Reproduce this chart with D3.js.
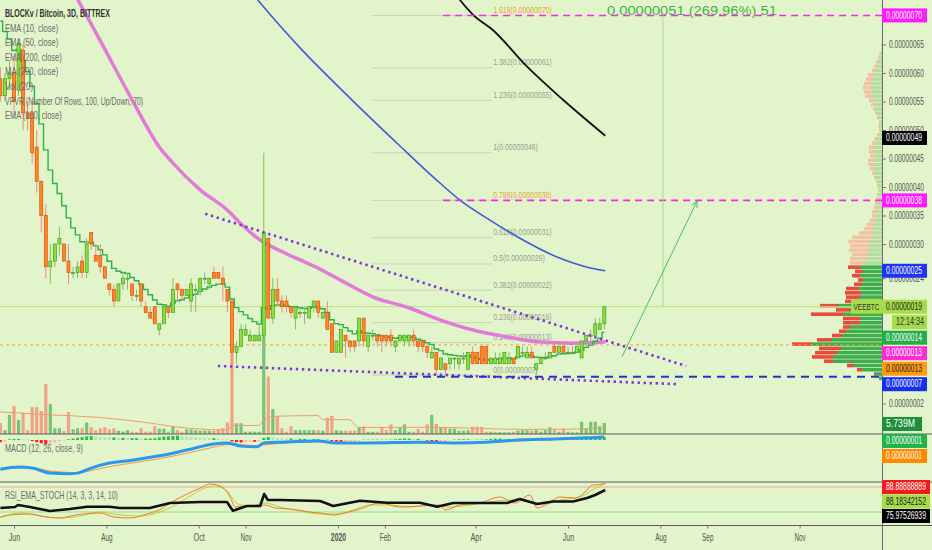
<!DOCTYPE html>
<html><head><meta charset="utf-8">
<script src="https://cdn.jsdelivr.net/npm/d3@7/dist/d3.min.js"></script>
<style>
html,body{margin:0;padding:0;background:#e2f5ca;}
svg{display:block;}
text{font-family:"Liberation Sans",Arial,sans-serif;}
</style></head><body>
<svg id="chart" width="932" height="550"></svg>
<script>
// ================= DATA =================
const candleStart = "2019-05-23";
const candleStepDays = 3;
// [open, high, low, close] in satoshi (1e-8 BTC)
const candleOHLC = [
[59,61,55,56],[56,60,55,59],[59,62,57,60],[60,63,52,55],[57,66,56,65],[64,65,50,53],[53,55,50,52],[53,55,44,46],[47,50,39,41],[41,41,32,35],
[35,37,24,26],[26,30,23,27],[27,30,26,30],[30,33,28,31],[30,30,27,27],[27,30,23,25],[25,26,24,25],[25,27,24,26],[27,28,24,25],[25,31,24,30],
[32,32,29,30],[28,30,27,27],[28,30,25,26],[26,26,24,24],[23,23,21,22],[22,23,19,20],[20,23,20,23],[23,25,22,24],[24,25,22,24],[23,23,20,21],
[21,22,20,21],[23,23,19,20],[19,20,18,18],[18,19,17,17],[19,19,16,16],[15,16,14,16],[16,19,16,19],[19,19,17,18],[18,24,18,22],[23,23,20,22],
[22,22,20,21],[21,22,21,22],[20,24,18,23],[22,23,18,22],[22,24,21,24],[24,25,23,24],[23,24,22,24],[25,26,24,24],[25,25,24,24],[24,26,20,23],
[22,22,18,20],[20,20,8,11],[11,13,9,12],[12,16,12,15],[14,16,14,15],[13,15,13,14],[13,14,13,14],[13,16,13,14],[14,46,13,32],[31,31,17,17],
[17,24,16,22],[22,24,19,20],[20,21,18,19],[20,21,18,19],[19,19,17,18],[17,19,15,19],[18,19,17,18],[18,19,16,18],[17,19,17,19],[19,20,18,20],
[20,20,17,18],[17,18,17,18],[18,20,15,15],[16,16,11,11],[11,13,11,13],[11,15,11,15],[14,14,10,13],[13,13,11,12],[13,13,11,12],[13,17,12,17],
[17,17,12,13],[12,14,11,14],[14,15,13,14],[14,14,12,13],[14,14,11,13],[14,14,12,13],[14,15,12,13],[12,13,11,13],[13,14,13,14],[13,14,12,14],
[13,14,12,14],[14,15,12,13],[13,13,11,12],[13,13,11,12],[12,12,10,11],[10,12,10,11],[11,11,7,8],[8,10,8,10],[9,9,7,8],[9,10,8,10],
[10,10,8,10],[9,10,8,10],[10,11,9,10],[8,11,8,11],[11,12,9,9],[11,11,9,9],[12,12,9,9],[12,12,9,9],[9,10,9,10],[9,11,9,10],
[9,11,9,10],[9,11,9,11],[9,11,9,10],[10,10,9,9],[10,12,10,12],[11,12,10,11],[10,12,10,11],[11,12,10,10],[8,9,7,9],[9,10,9,10],
[10,11,10,10],[10,11,10,11],[12,13,11,11],[11,12,11,12],[12,13,11,11],[11,12,11,11],[11,12,11,11],[11,12,11,12],[10,13,10,13],[13,14,12,14],
[14,15,13,14],[14,17,14,16],[15,17,15,16],[16,19,15,19]
];
// volume in millions
const volumeM = [
5.7,2,10,14.6,7.3,11,2,14,14,12,
26,15.6,3,3,1.5,11.5,2.5,3,3,6,
3.6,2,3,3.5,2.4,3,1.7,1.2,2,1.2,
0.8,3,1.2,1.2,4,2.8,2.8,1.2,4,2,
1.2,2.4,2.4,2,1.7,1.7,1.7,1.7,2.4,3,
6,42,5.6,5.6,1.2,1.2,1.2,1.2,55,30,
13,9.4,3,1.2,4,2,2,2,2,2,
2,1.7,8.5,9.4,2,1.7,1.7,1.7,1.7,3.3,
4,1.2,1.2,1.2,3.5,2,5,2,3.5,5,
1.2,1.2,2.5,1.2,5,10,5.3,3.5,3.5,2.8,
2.8,1.7,1.7,2,3.8,3.8,3.8,1.2,1.2,0.9,
0.9,0.9,0.9,1.2,1.7,2,2,1.7,2,1.2,
2,3.5,2.4,1.2,2.8,1.2,0.9,0.9,6.4,3,
6.4,6.4,4,5.74
];
const volMaIdx = [0,11,22,31,41,50,51,57,58,59,60,70,71,77,78,79,95,115,128,133];
const volMaVal = [11.5,10,8.6,6.3,3.1,2.1,4.4,4.5,7.2,8.6,9.2,9.6,7.6,7.4,4.8,3.4,3.5,2.4,2.6,3.2];

// long moving averages (sampled at candle index)
const ema100Idx = [13,17.1,21.9,29,35.2,38,44,49.9,52.8,57.2,62.2,66,70.4,74.8,82.1,89.6,96.8,104.1,111.6,118.9,126.1,133.2];
const ema100Val = [78.4,72.8,65.8,55.3,46.8,44.2,39.5,36,33.7,30.7,28.6,27.2,25.6,23.7,20.7,18.9,16.7,14.9,13.7,12.8,12.6,12.8];
const ema200Idx = [50.6,56.7,66,77,88,96.8,101.2,107.8,115.1,122.6,129.9,133.2];
const ema200Val = [78.9,72.8,64.4,55.6,47.2,40.7,37.7,34.2,30.7,27.7,25.8,25.3];
const ma200Idx = [97.9,101.2,104.1,108.5,116,123.9,133.2];
const ma200Val = [76.3,72.8,70.2,67.5,61.1,55.3,49];
const ema10Seed = 72;

// volume profile rows (bottom up), base price & row height in sats
const vpBase = 6.0, vpRow = 0.75;
const vpUp = [3,7,20,28,49,49,45,41,70,50, 40,36,32,22,22,39,32,44,22,22, 21,24,20,19,22,19,22,18,15,14,
  13,12,12,10,9,8,8,7,6,6, 5,4,4,3,3,4,5,6,7,8, 9,8,7,9,8,6,5,3,2,3, 2,4,5,6,7,8,10,10,11,10, 9,8,6,5,4,3,2,1,1];
const vpDown = [0,1,5,7,9,21,22,22,20,15, 10,7,7,17,17,32,14,18,15,14, 16,12,8,5,8,8,12,14,17,16,
  20,20,22,20,14,10,7,5,4,4, 3,3,2,2,1,1,1,2,3,4, 5,6,5,4,5,4,3,2,1,1, 1,1,2,3,4,5,7,8,8,8, 7,6,4,3,2,1,1,0,0];
const vpValueAreaTop = 26;
const pocPrice = 12.3;

// MACD
const macdHist = [
-0.6,-0.5,0.2,0.3,0.3,0.2,0.1,-0.3,-0.6,-0.9,
-1.2,-1.0,-0.7,-0.4,-0.2,0.2,0.4,0.6,0.8,1.0,
1.1,1.0,0.9,0.8,0.7,0.7,0.6,0.6,0.5,0.5,
0.5,0.4,0.4,0.4,0.5,0.7,0.9,1.0,1.1,1.2,
1.1,1.0,0.9,0.8,0.7,0.6,0.5,0.5,0.4,0.3,
0.2,-0.4,-0.6,-0.7,-0.6,-0.5,-0.5,-0.4,0.6,0.8,
0.7,0.6,0.5,0.4,0.4,0.3,0.3,0.3,0.2,0.2,
0.2,0.1,0.1,-0.3,-0.5,-0.6,-0.5,-0.4,-0.3,-0.1,
0.1,0.1,0.1,0.1,0.1,0.1,0.1,0.2,0.3,0.4,
0.4,0.3,0.3,0.2,-0.2,-0.4,-0.5,-0.4,-0.3,-0.1,
0.1,0.2,0.2,0.2,0.1,0.1,0.1,0.2,0.3,0.4,
0.4,0.3,0.3,0.2,0.3,0.3,0.2,0.2,0.2,0.3,
0.3,0.3,0.3,0.2,0.2,0.2,0.2,0.3,0.4,0.5,
0.5,0.6,0.6,0.7
];
const macdIdx = [0,4,7,11,15,17,20,24,29,35,41,47,50,53,56.5,58,62,70,74,81,92,100,107,114,122,129,133];
const macdVal = [-8.1,-7.5,-7.8,-9.2,-9.4,-9.2,-7.8,-6.4,-5.6,-4.4,-2.8,-1.1,-0.8,-1.7,-1.9,-0.8,-0.6,-0.3,-0.8,-0.8,-0.6,-0.8,-0.6,0,0.3,0.6,0.8];
const signalVal = [-8.3,-7.8,-7.8,-8.6,-9.0,-9.1,-8.5,-7.4,-6.4,-5.2,-3.7,-2.0,-1.3,-1.3,-1.6,-1.4,-0.9,-0.5,-0.6,-0.8,-0.7,-0.8,-0.7,-0.3,0.1,0.4,0.6];

// RSI_EMA_STOCH
const rsiIdx = [0,3.2,3.9,6.5,10.9,15.3,19.1,24.1,26.3,32.9,37.4,44,49.9,51.2,54.3,57.2,58.1,58.9,61.6,70.4,73.3,79.2,85.2,92.4,96.2,99.7,111.6,114.4,118.2,121.7,126.1,129.2,131,133.2];
const rsiVal = [29.6,32,36.8,32,22.4,27.2,32.7,32.7,29.6,29.6,41.6,44,44,23.1,34.4,34.4,63.2,48.8,48.8,46.4,34.4,47.1,42.3,42.3,32.7,41.6,41.6,51.2,39.2,45.2,45.2,53.6,60.8,72.8];
const kIdx = [0,2,6.5,10,13,16.5,22,25,28.5,33,35,37.4,40.7,44,46.2,48.8,50.6,51.7,53.9,56,58.3,60.5,63.8,68.2,70.4,73.3,75.9,79.2,83.6,88,92.4,96.8,97.9,101.2,105.6,110,113.3,116.6,118.2,120,123.3,126.6,128.8,130.3,132,133.2];
const kVal = [8,12.8,15.2,8,5.6,12.8,17.6,8,5.6,17.6,24.8,41.6,60.8,77.6,87.2,80,56,32,34.4,34.4,36.8,29.6,27.2,20,17.6,12.8,17.6,27.2,41.6,32,34.4,36.8,24.8,36.8,41.6,56,41.6,60.8,29.6,36.8,56,53.6,68,84.8,86,88.9];
const dIdx = [0,4.3,8.7,13,17.5,22,26.3,30.7,35.2,38.5,41.8,45,47.3,50.1,52.3,55,58.3,61.6,66,70.4,73.7,77,81.4,85.8,90.2,94.6,99,103.4,107.8,112.3,116.6,120,123.3,127.7,130.3,132,133.2];
const dVal = [5.6,17.6,10.4,5.6,10.4,20,12.8,10.4,20,36.8,58.4,77.6,82.4,68,39.2,34.4,41.6,32,22.4,15.2,15.2,22.4,36.8,36.8,32,36.8,32,36.8,44,48.8,44,39.2,48.8,56,72.8,82.4,88.2];
const rsiLevels = [80,20];

// drawings
const fibLow = 7, fibHigh = 46;
const fibLevels = [0,0.146,0.236,0.382,0.5,0.618,0.786,1,1.236,1.382,1.618];
const fibLabels = ["0(0.00000007)","0.146(0.00000013)","0.236(0.00000016)","0.382(0.00000022)","0.5(0.00000026)","0.618(0.00000031)","0.786(0.00000038)","1(0.00000046)","1.236(0.00000055)","1.382(0.00000061)","1.618(0.00000070)"];
const fibSpanIdx = [81.9,108.3];
const trendUpper = [[45.1,35.3],[151,8.6]];
const trendLower = [[47.9,8.6],[149.3,5.4]];
const magentaRays = [70.1,37.65], magentaStartIdx = 97.5;
const blueRay = 6.7, blueRayStartIdx = 86.9;
const lastClose = 19;
const arrowPts = [[136.9,10.2],[153.4,37.5]];
const measureIdx = 145.9, measureFrom = 19, measureTo = 70.1;
const measureText = "0.00000051 (269.96%) 51";

// axes / labels
const priceTicks = [65,60,55,50,45,40,35,30,24,2];
const timeTickDates = ["2019-06-01","2019-08-01","2019-10-01","2019-11-01","2020-01-01","2020-02-01","2020-04-01","2020-06-01","2020-08-01","2020-09-01","2020-11-01"];
const timeTickLabels = ["Jun","Aug","Oct","Nov","2020","Feb","Apr","Jun","Aug","Sep","Nov"];
const legendLines = ["BLOCKv / Bitcoin, 3D, BITTREX","EMA (10, close)","EMA (50, close)","EMA (200, close)","MA (200, close)","Vol (20)","VPVR (Number Of Rows, 100, Up/Down, 70)","EMA (100, close)"];
const priceTagValues = [70.1,48.6,37.65,25.3,19,14,12.8,12.3,6.7];
const priceTagLabels = ["0.00000070","0.00000049","0.00000038","0.00000025","0.00000019","0.00000014","0.00000013","0.00000013","0.00000007"];
const symbolTag = "VEEBTC", countdown = "12:14:34";
const volTag = "5.739M";
const macdTagValues = [0.8,0.6], macdTagLabels = ["0.00000001","0.00000001"];
const rsiTagValues = [88.89,88.18,75.98], rsiTagLabels = ["88.88888889","88.18342152","75.97526939"];

// ================= STYLE =================
const BG = "#e2f5ca", AX = 882;
const tagFill = ["#ff1aff","#000000","#ff1aff","#1f35f5","#a6dc48","#22ad48","#ff2ad8","#ff9a12","#1730f0"];
const tagInk = ["#fff","#fff","#fff","#fff","#222","#fff","#fff","#222","#fff"];

// squeeze a text horizontally to a target width (keeps real text)
function fitText(sel, wFn){
  sel.each(function(d,i){
    const w = typeof wFn==="function" ? wFn(d,i,this) : wFn;
    const n = this.getComputedTextLength();
    const sx = n>0 ? w/n : 1;
    const x0 = +(this.getAttribute("x")||0), y0 = +(this.getAttribute("y")||0);
    this.setAttribute("x",0); this.setAttribute("y",0);
    this.setAttribute("transform",`translate(${x0},${y0}) scale(${sx},1)`);
  });
}

// ================= SCALES =================
const svg = d3.select("#chart");
const parseDate = d3.utcParse("%Y-%m-%d");
const t0 = parseDate(candleStart);
const dateOf = i => new Date(t0.getTime() + i*candleStepDays*864e5);
const x = d3.scaleUtc().domain([parseDate("2019-06-01"), parseDate("2020-06-01")]).range([14,568]);
const xi = i => x(dateOf(i));
const y = d3.scaleLinear().domain([0,70]).range([415,16]);
const yVol = d3.scaleLinear().domain([0,50]).range([434,338]);
const yMacd = d3.scaleLinear().domain([-10,0]).range([476,440]);
const yRsi = d3.scaleLinear().domain([20,80]).range([512,487]);
const vpLen = d3.scaleLinear().domain([0,100]).range([0,100]);

const candles = candleOHLC.map((d,i)=>({i, o:d[0], h:d[1], l:d[2], c:d[3], v:volumeM[i], m:macdHist[i]}));

svg.append("rect").attr("width",932).attr("height",550).attr("fill",BG);
const defs = svg.append("defs");
function clip(id,x0,y0,w,h){defs.append("clipPath").attr("id",id).append("rect").attr("x",x0).attr("y",y0).attr("width",w).attr("height",h);}
clip("cMain",0,0,AX,434); clip("cMacd",0,434,AX,48); clip("cRsi",0,482,AX,43.5);

const gMain = svg.append("g").attr("clip-path","url(#cMain)");

// volume bars
gMain.append("g").selectAll("rect").data(candles).join("rect")
  .attr("x",d=>xi(d.i)-1.6).attr("width",3.2)
  .attr("y",d=>yVol(d.v)).attr("height",d=>434-yVol(d.v))
  .attr("fill",d=>d.c>=d.o?"#78c474":"#f2a386");
gMain.append("path").datum(d3.zip(volMaIdx,volMaVal))
  .attr("d",d3.line().x(d=>xi(d[0])).y(d=>yVol(d[1])).curve(d3.curveMonotoneX))
  .attr("fill","none").attr("stroke","#f09a72").attr("stroke-width",1);

// volume profile
const vpRows = vpUp.map((u,k)=>({k,u,d:vpDown[k]}));
const gVp = gMain.append("g");
vpRows.forEach(r=>{
  const top = y(vpBase+vpRow*(r.k+1)), bot = y(vpBase+vpRow*r.k);
  const h = bot-top-0.7;
  const dark = r.k<=vpValueAreaTop;
  gVp.append("rect").attr("x",AX-vpLen(r.u)).attr("y",top).attr("width",vpLen(r.u)).attr("height",h)
    .attr("fill",dark?"#3fae4c":"#b4dd9f");
  gVp.append("rect").attr("x",AX-vpLen(r.u)-vpLen(r.d)).attr("y",top).attr("width",vpLen(r.d)).attr("height",h)
    .attr("fill",dark?"#ea4a3a":"#f2c3a3");
});

// fib
const fibG = gMain.append("g");
fibLevels.forEach((lv,k)=>{
  const p = fibLow + lv*(fibHigh-fibLow);
  const special = (lv===1.618||lv===0.786);
  fibG.append("line").attr("x1",xi(fibSpanIdx[0])).attr("x2",xi(fibSpanIdx[1])).attr("y1",y(p)).attr("y2",y(p))
    .attr("stroke","#c9d3b8").attr("stroke-width",1);
  fibG.append("text").attr("x",xi(fibSpanIdx[1])+1).attr("y",y(p)-5).attr("dominant-baseline","middle")
    .attr("font-size",9.5).attr("fill",special?"#e8a640":"#9a9f93").text(fibLabels[k])
    .call(s=>fitText(s, fibLabels[k].length*3.45));
});

// price line & POC
gMain.append("line").attr("x1",0).attr("x2",AX).attr("y1",y(lastClose)).attr("y2",y(lastClose)).attr("stroke","#bfe07a").attr("stroke-width",1);
gMain.append("line").attr("x1",0).attr("x2",AX).attr("y1",y(pocPrice)).attr("y2",y(pocPrice)).attr("stroke","#f5a338").attr("stroke-width",1).attr("stroke-dasharray","3,3");

// moving averages
const smooth = d3.line().x(d=>xi(d[0])).y(d=>y(d[1])).curve(d3.curveMonotoneX);
gMain.append("path").datum(d3.zip(ema200Idx,ema200Val)).attr("d",smooth).attr("fill","none").attr("stroke","#3f5bd8").attr("stroke-width",1.6);
gMain.append("path").datum(d3.zip(ma200Idx,ma200Val)).attr("d",smooth).attr("fill","none").attr("stroke","#111").attr("stroke-width",1.8);
gMain.append("path").datum(d3.zip(ema100Idx,ema100Val)).attr("d",smooth).attr("fill","none").attr("stroke","#e27ad8").attr("stroke-width",3.5);

// EMA 10 from closes
const alpha = 2/11; let e = ema10Seed;
const ema10 = candles.map(d=>{ e = e + alpha*(d.c-e); return [d.i,e]; });
gMain.append("path").datum(ema10).attr("d",d3.line().x(d=>xi(d[0])).y(d=>y(d[1])).curve(d3.curveStep))
  .attr("fill","none").attr("stroke","#2fb14a").attr("stroke-width",1.4);

// candles
const cg = gMain.append("g");
cg.selectAll("line").data(candles).join("line")
  .attr("x1",d=>xi(d.i)).attr("x2",d=>xi(d.i)).attr("y1",d=>y(d.h)).attr("y2",d=>y(d.l))
  .attr("stroke",d=>d.c>d.o?"#7fc25a":(d.c<d.o?"#ee8c76":"#9aa890")).attr("stroke-width",1);
cg.selectAll("rect").data(candles).join("rect")
  .attr("x",d=>xi(d.i)-1.5).attr("width",3)
  .attr("y",d=>y(Math.max(d.o,d.c))).attr("height",d=>Math.max(1,Math.abs(y(d.o)-y(d.c))))
  .attr("fill",d=>d.c>=d.o?"#8fe034":"#ff8a1a")
  .attr("stroke",d=>d.c>=d.o?"#3f9e28":"#e24a1c").attr("stroke-width",0.7);

// trend lines
[trendUpper,trendLower].forEach(t=>{
  gMain.append("line").attr("x1",xi(t[0][0])).attr("y1",y(t[0][1])).attr("x2",xi(t[1][0])).attr("y2",y(t[1][1]))
    .attr("stroke","#8236d8").attr("stroke-width",2.6).attr("stroke-dasharray","2.4,3.6");
});
// rays
magentaRays.forEach(p=>{
  gMain.append("line").attr("x1",xi(magentaStartIdx)).attr("x2",AX).attr("y1",y(p)).attr("y2",y(p))
    .attr("stroke","#ff22f0").attr("stroke-width",1.6).attr("stroke-dasharray","7,5");
});
gMain.append("line").attr("x1",xi(blueRayStartIdx)).attr("x2",AX).attr("y1",y(blueRay)).attr("y2",y(blueRay))
  .attr("stroke","#2236c8").attr("stroke-width",2).attr("stroke-dasharray","8,6");
// measure
gMain.append("line").attr("x1",xi(measureIdx)).attr("x2",xi(measureIdx)).attr("y1",y(measureTo)).attr("y2",y(measureFrom))
  .attr("stroke","#a9d59a").attr("stroke-width",1);
svg.append("text").attr("x",xi(measureIdx)+29).attr("y",y(measureTo)-4).attr("text-anchor","middle")
  .attr("dominant-baseline","middle").attr("font-size",13).attr("fill","#45b04c").text(measureText)
  .call(s=>fitText(s,170));
// arrow
{
  const ax1=xi(arrowPts[0][0]), ay1=y(arrowPts[0][1]), ax2=xi(arrowPts[1][0]), ay2=y(arrowPts[1][1]);
  gMain.append("line").attr("x1",ax1).attr("y1",ay1).attr("x2",ax2).attr("y2",ay2).attr("stroke","#4cbf62").attr("stroke-width",1);
  const ang = Math.atan2(ay2-ay1, ax2-ax1), L=7, sp=0.45;
  gMain.append("path").attr("d",`M${ax2-L*Math.cos(ang-sp)},${ay2-L*Math.sin(ang-sp)}L${ax2},${ay2}L${ax2-L*Math.cos(ang+sp)},${ay2-L*Math.sin(ang+sp)}`)
    .attr("fill","none").attr("stroke","#4cbf62").attr("stroke-width",1);
}

// legend
legendLines.forEach((t,k)=>{
  svg.append("text").attr("x",5).attr("y",14.3+k*14.6).attr("dominant-baseline","middle")
    .attr("font-size",10.5).attr("fill",k===0?"#333":"#6b6b6b").attr("font-weight",k===0?"bold":"normal").text(t)
    .call(s=>fitText(s, t.length*(k===0?3.62:3.55)));
});

// ===== MACD pane =====
const gM = svg.append("g").attr("clip-path","url(#cMacd)");
gM.selectAll("rect").data(candles).join("rect")
  .attr("x",d=>xi(d.i)-1.5).attr("width",3)
  .attr("y",d=>Math.min(yMacd(0),yMacd(d.m))).attr("height",d=>Math.abs(yMacd(d.m)-yMacd(0)))
  .attr("fill",(d,i)=>{const p=i>0?candles[i-1].m:d.m; return d.m>=0?(d.m>=p?"#22c043":"#aee6b4"):(d.m<=p?"#ff1d1d":"#ffb4b4");});
const lm = d3.line().x(d=>xi(d[0])).y(d=>yMacd(d[1])).curve(d3.curveMonotoneX);
gM.append("path").datum(d3.zip(macdIdx,signalVal)).attr("d",lm).attr("fill","none").attr("stroke","#f59a3a").attr("stroke-width",1);
gM.append("path").datum(d3.zip(macdIdx,macdVal)).attr("d",lm).attr("fill","none").attr("stroke","#2b97ef").attr("stroke-width",3);
svg.append("text").attr("x",5).attr("y",449.5).attr("dominant-baseline","middle").attr("font-size",10.5).attr("fill","#6b6b6b")
  .text("MACD (12, 26, close, 9)").call(s=>fitText(s,78));

// ===== RSI pane =====
const gR = svg.append("g").attr("clip-path","url(#cRsi)");
rsiLevels.forEach((lv,k)=>{
  gR.append("line").attr("x1",0).attr("x2",AX).attr("y1",yRsi(lv)).attr("y2",yRsi(lv))
    .attr("stroke",k===0?"#f2a59a":"#9bdc8e").attr("stroke-width",1);
});
const lr = d3.line().x(d=>xi(d[0])).y(d=>yRsi(d[1])).curve(d3.curveMonotoneX);
gR.append("path").datum(d3.zip(dIdx,dVal)).attr("d",lr).attr("fill","none").attr("stroke","#b6d526").attr("stroke-width",1);
gR.append("path").datum(d3.zip(kIdx,kVal)).attr("d",lr).attr("fill","none").attr("stroke","#f3763a").attr("stroke-width",1);
gR.append("path").datum(d3.zip(rsiIdx,rsiVal)).attr("d",d3.line().x(d=>xi(d[0])).y(d=>yRsi(d[1])))
  .attr("fill","none").attr("stroke","#111").attr("stroke-width",2.6).attr("stroke-linejoin","round");
svg.append("text").attr("x",5).attr("y",496.5).attr("dominant-baseline","middle").attr("font-size",10.5).attr("fill","#6b6b6b")
  .text("RSI_EMA_STOCH (14, 3, 3, 14, 10)").call(s=>fitText(s,113));

// ===== separators =====
[434,482,525.5].forEach(v=>svg.append("line").attr("x1",0).attr("x2",932).attr("y1",v).attr("y2",v).attr("stroke","#5a5a5a").attr("stroke-width",1));
svg.append("line").attr("x1",AX+0.5).attr("x2",AX+0.5).attr("y1",0).attr("y2",550).attr("stroke","#6a6a6a").attr("stroke-width",1);

// ===== price axis =====
const gAx = svg.append("g").attr("transform",`translate(${AX},0)`)
  .call(d3.axisRight(y).tickValues(priceTicks).tickSize(4).tickFormat(v=>d3.format(".8f")(v*1e-8)));
gAx.select(".domain").remove();
gAx.selectAll("line").attr("stroke","#777");
gAx.selectAll("text").attr("x",7).attr("fill","#555").attr("font-size",10).attr("font-family","Liberation Sans, Arial, sans-serif")
  .call(s=>fitText(s,35));

function tag(yc,label,fill,ink,x0,w,tl){
  svg.append("rect").attr("x",x0).attr("y",yc-7).attr("width",w).attr("height",14).attr("fill",fill);
  svg.append("text").attr("x",x0+4).attr("y",yc+0.5).attr("dominant-baseline","middle").attr("font-size",10)
    .attr("fill",ink).text(label).call(s=>fitText(s,tl));
}
// price tags with collision avoidance
let prev = -100;
priceTagValues.forEach((v,k)=>{
  let yc = Math.max(y(v), prev+15.5);
  tag(yc, priceTagLabels[k], tagFill[k], tagInk[k], AX, 45, 36);
  if (k===4){
    svg.append("rect").attr("x",AX-31).attr("y",yc-7).attr("width",31).attr("height",14).attr("fill",tagFill[k]);
    svg.append("text").attr("x",AX-15.5).attr("y",yc+0.5).attr("text-anchor","middle").attr("dominant-baseline","middle")
      .attr("font-size",9.5).attr("fill","#333").text(symbolTag).call(s=>fitText(s,26));
    yc += 15.5;
    tag(yc, countdown, tagFill[k], "#333", AX+10, 35, 28);
  }
  prev = yc;
});
// volume tag
tag(yVol(volumeM[volumeM.length-1])+1, volTag, "#1f8f3a", "#fff", AX, 40, 29);
// macd tags
prev = -100;
macdTagValues.forEach((v,k)=>{
  const yc = Math.max(yMacd(v), 441, prev+15);
  tag(yc, macdTagLabels[k], k===0?"#22b34a":"#ff8a00", "#fff", AX, 45, 36);
  prev = yc;
});
// rsi tags
prev = -100;
rsiTagValues.forEach((v,k)=>{
  const yc = Math.max(yRsi(v), 487, prev+14.5);
  tag(yc, rsiTagLabels[k], ["#f21a1a","#a6dc48","#000"][k], ["#fff","#222","#fff"][k], AX, 48, 40);
  prev = yc;
});

// ===== time axis =====
const gT = svg.append("g").attr("transform","translate(0,525.5)")
  .call(d3.axisBottom(x).tickValues(timeTickDates.map(parseDate)).tickSize(3).tickFormat((d,i)=>timeTickLabels[i]));
gT.select(".domain").remove();
gT.selectAll("line").attr("stroke","#777");
gT.selectAll("text").attr("y",8).attr("fill","#555").attr("font-size",10).attr("font-family","Liberation Sans, Arial, sans-serif")
  .attr("font-weight",(d,i)=>timeTickLabels[i]==="2020"?"bold":"normal")
  .call(s=>fitText(s,(d,i)=>timeTickLabels[i].length*3.8));
</script>
</body></html>
